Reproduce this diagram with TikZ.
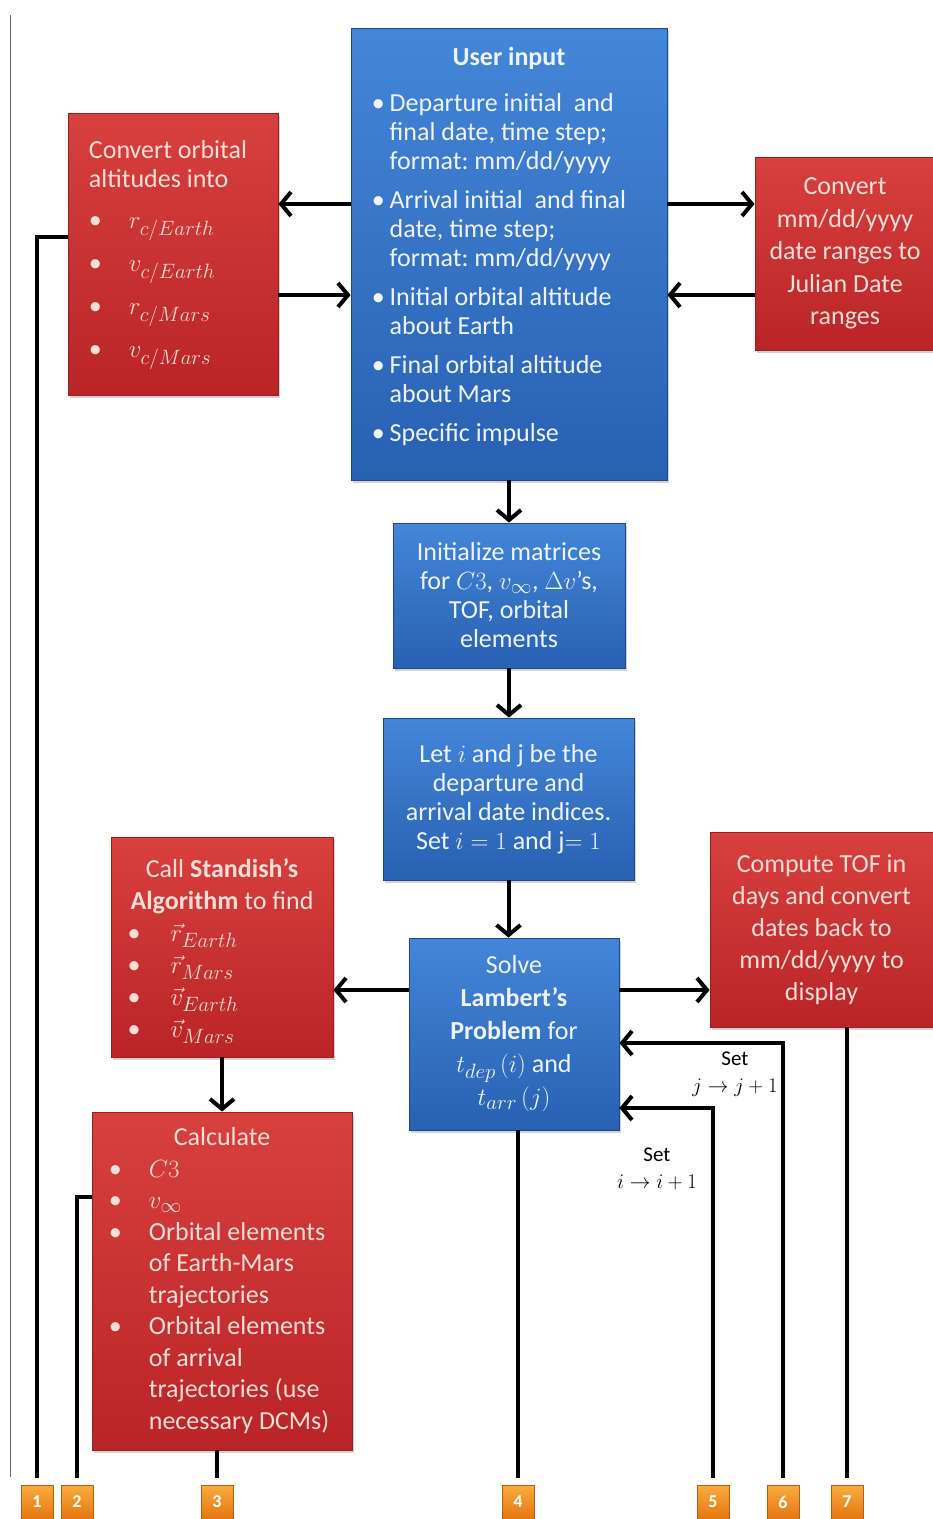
\documentclass[tikz,border=0pt]{standalone}
\usepackage{fontspec}
\setmainfont{Carlito}
\usetikzlibrary{arrows.meta,shadows,calc}
\DeclareMathSizes{26}{28.5}{21}{16}
\DeclareMathSizes{21}{22.5}{17}{13}
\definecolor{rtop}{RGB}{216,64,62}
\definecolor{rbot}{RGB}{186,36,38}
\definecolor{rline}{RGB}{150,32,32}
\definecolor{rtext}{RGB}{250,222,216}
\definecolor{btop}{RGB}{68,134,216}
\definecolor{bbot}{RGB}{40,96,178}
\definecolor{bline}{RGB}{30,72,140}
\definecolor{btext}{RGB}{238,243,252}
\definecolor{otop}{RGB}{250,172,62}
\definecolor{obot}{RGB}{228,118,18}
\newcommand{\bx}[1]{\makebox[#1][l]{\textbullet}}
\newcommand{\shiftup}[2]{\raisebox{#1}[\height][\depth]{#2}}
\tikzset{
  box/.style={inner sep=0pt, line width=0.8pt,
    drop shadow={opacity=0.35,shadow xshift=2pt,shadow yshift=-3pt}},
  redbox/.style={box, draw=rline, top color=rtop, bottom color=rbot, text=rtext},
  bluebox/.style={box, draw=bline, top color=btop, bottom color=bbot, text=btext},
  arr/.style={line width=4pt, -{Straight Barb[length=10pt,width=24pt]}},
  ln/.style={line width=4pt},
  lab/.style={minimum width=32pt, minimum height=34pt, inner sep=0pt,
    top color=otop, bottom color=obot, draw=obot!80!black, line width=0.5pt,
    text=white, font=\fontsize{18}{20}\selectfont\bfseries},
  setlbl/.style={align=center, inner sep=0pt, font=\fontsize{21}{27}\selectfont}
}
\begin{document}
\frenchspacing
\begin{tikzpicture}[x=1pt,y=-1pt]
\useasboundingbox (0,0) rectangle (933,1519);
\draw[line width=0.8pt, black!60] (10,15) -- (10,1477);

% boxes
\node[redbox, minimum width=210pt, minimum height=282pt,
  font=\fontsize{26}{29}\selectfont] (orb) at (173,254) {%
\begin{tabular}{@{}l@{\hspace{10pt}}}
Convert orbital\\
altitudes into\\[12pt]
\bx{40pt}$r_{c/Earth}$\\[14pt]
\bx{40pt}$v_{c/Earth}$\\[14pt]
\bx{40pt}$r_{c/Mars}$\\[14pt]
\bx{40pt}$v_{c/Mars}$
\end{tabular}};

\node[bluebox, minimum width=316pt, minimum height=452pt,
  font=\fontsize{26}{29}\selectfont] (user) at (509,254) {\shiftup{6pt}{%
\begin{tabular}{@{}l@{\hspace{5pt}}l@{\hspace{20pt}}}
\multicolumn{2}{@{}c@{}}{\textbf{User input}}\\[17pt]
\textbullet & Departure initial\ \ and\\
 & final date, time step;\\
 & format: mm/dd/yyyy\\[10pt]
\textbullet & Arrival initial\ \ and final\\
 & date, time step;\\
 & format: mm/dd/yyyy\\[10pt]
\textbullet & Initial orbital altitude\\
 & about Earth\\[10pt]
\textbullet & Final orbital altitude\\
 & about Mars\\[10pt]
\textbullet & Specific impulse
\end{tabular}}};

\node[redbox, minimum width=180pt, minimum height=193pt, align=center,
  font=\fontsize{26}{32.5}\selectfont] (conv) at (845,253.5)
  {Convert\\mm/dd/yyyy\\date ranges to\\Julian Date\\ranges};

\node[bluebox, minimum width=232pt, minimum height=145pt, align=center,
  font=\fontsize{26}{29}\selectfont] (init) at (509,595.5)
  {Initialize matrices\\for $C3$, $v_\infty$, $\Delta v$’s,\\TOF, orbital\\elements};

\node[bluebox, minimum width=251pt, minimum height=162pt, align=center,
  font=\fontsize{26}{29}\selectfont] (let) at (508.5,799)
  {Let $i$ and j be the\\departure and\\arrival date indices.\\Set $i=1$ and j$=1$};

\node[redbox, minimum width=222pt, minimum height=220pt,
  font=\fontsize{26}{32}\selectfont] (stand) at (222,947) {\shiftup{-4pt}{%
\begin{tabular}{@{}l@{}}
\multicolumn{1}{@{}c@{}}{Call \textbf{Standish's}}\\
\textbf{Algorithm} to find\\
\hspace{-3pt}\bx{43pt}$\vec{r}_{Earth}$\\
\hspace{-3pt}\bx{43pt}$\vec{r}_{Mars}$\\
\hspace{-3pt}\bx{43pt}$\vec{v}_{Earth}$\\
\hspace{-3pt}\bx{43pt}$\vec{v}_{Mars}$
\end{tabular}}};

\node[bluebox, minimum width=210pt, minimum height=192pt, align=center,
  font=\fontsize{26}{33}\selectfont] (solve) at (514,1034)
  {Solve\\\textbf{Lambert's}\\\textbf{Problem} for\\$t_{dep}\,(i)$ and\\$t_{arr}\,(j)$};

\node[redbox, minimum width=223pt, minimum height=195pt, align=center,
  font=\fontsize{26}{32}\selectfont] (tof) at (821.5,929.5)
  {Compute TOF in\\days and convert\\dates back to\\mm/dd/yyyy to\\display};

\node[redbox, minimum width=260pt, minimum height=338pt,
  font=\fontsize{26}{31.5}\selectfont] (calc) at (222,1281) {%
\begin{tabular}{@{}l@{}l@{\hspace{6pt}}}
\multicolumn{2}{@{}c@{}}{Calculate}\\
\bx{40pt} & $C3$\\
\bx{40pt} & $v_\infty$\\
\bx{40pt} & Orbital elements\\
 & of Earth-Mars\\
 & trajectories\\
\bx{40pt} & Orbital elements\\
 & of arrival\\
 & trajectories (use\\
 & necessary DCMs)
\end{tabular}};

% bottom labels
\node[lab] (lab1) at (37,1502) {1};
\node[lab] (lab2) at (77,1502) {2};
\node[lab] (lab3) at (217,1502) {3};
\node[lab] (lab4) at (518,1502) {4};
\node[lab] (lab5) at (713,1502) {5};
\node[lab] (lab6) at (783,1502) {6};
\node[lab] (lab7) at (847,1502) {7};

% set labels
\node[setlbl] (setj) at (735,1074) {Set\\$j \rightarrow j+1$};
\node[setlbl] (seti) at (657,1169) {Set\\$i \rightarrow i+1$};

% connectors
\coordinate (uL1) at ($(user.west)+(0,-50)$);
\coordinate (uL2) at ($(user.west)+(0,41)$);
\draw[arr] (uL1) -- (uL1 -| orb.east);
\draw[arr] (uL2 -| orb.east) -- (uL2);
\draw[arr] (uL1 -| user.east) -- (uL1 -| conv.west);
\draw[arr] (uL2 -| conv.west) -- (uL2 -| user.east);

\draw[arr] (user.south) -- (user.south |- init.north);
\draw[arr] (init.south) -- (init.south |- let.north);
\draw[arr] (let.south) -- (let.south |- solve.north);

\coordinate (sL) at ($(solve.west)+(0,-44)$);
\draw[arr] (sL) -- (sL -| stand.east);
\draw[arr] (sL -| solve.east) -- (sL -| tof.west);
\draw[arr] (stand.south) -- (stand.south |- calc.north);

\coordinate (sj) at ($(solve.east)+(0,9)$);
\coordinate (si) at ($(solve.east)+(0,74)$);
\draw[arr] ([yshift=7pt]lab6.north) |- (sj);
\draw[arr] ([yshift=7pt]lab5.north) |- (si);

\coordinate (o1) at ($(orb.west)+(0,-17)$);
\draw[ln] (o1) -| ([yshift=7pt]lab1.north);
\coordinate (o2) at ($(calc.west)+(0,-84)$);
\draw[ln] (o2) -| ([yshift=7pt]lab2.north);
\draw[ln] (lab3.north |- calc.south) -- ([yshift=7pt]lab3.north);
\draw[ln] (lab4.north |- solve.south) -- ([yshift=7pt]lab4.north);
\draw[ln] (lab7.north |- tof.south) -- ([yshift=7pt]lab7.north);
\end{tikzpicture}
\end{document}
